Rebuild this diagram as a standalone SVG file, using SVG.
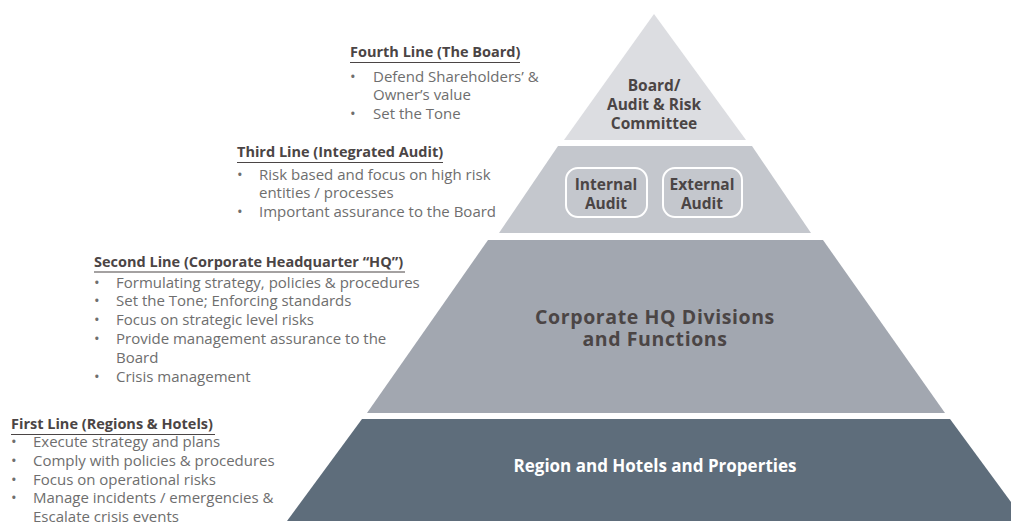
<svg xmlns="http://www.w3.org/2000/svg" width="1011" height="528" viewBox="0 0 1011 528">
  <style>
    .tier-label { font-family: "Open Sans", "Liberation Sans", sans-serif; font-weight: 700; fill: #4b4545; text-anchor: middle; }
    .tier-label-light { font-family: "Open Sans", "Liberation Sans", sans-serif; font-weight: 700; fill: #ffffff; text-anchor: middle; }
    .head { font-family: "Open Sans", "Liberation Sans", sans-serif; font-weight: 700; font-size: 14.5px; fill: #4b4545; }
    .body { font-family: "Open Sans", "Liberation Sans", sans-serif; font-size: 15px; fill: #6e6e6e; }
    .rule { stroke: #4b4545; stroke-width: 1.2; }
    .pill { fill: none; stroke: #ffffff; stroke-width: 2; }
  </style>

  <rect width="1011" height="528" fill="#ffffff"/>

  <!-- Pyramid tiers, top to bottom -->
  <g id="tier-board">
    <polygon points="654,14 746,140 564,140" fill="#dcdde1"/>
    <text class="tier-label" font-size="15.5" x="654" y="91">Board/</text>
    <text class="tier-label" font-size="15.5" x="654" y="110">Audit &amp; Risk</text>
    <text class="tier-label" font-size="15.5" x="654" y="129">Committee</text>
  </g>

  <g id="tier-audit">
    <polygon points="558,146 752,146 811,233 499,233" fill="#c4c7cd"/>
    <g id="internal-audit">
      <rect class="pill" x="566" y="168" width="81" height="49" rx="12"/>
      <text class="tier-label" font-size="15.5" x="606" y="190">Internal</text>
      <text class="tier-label" font-size="15.5" x="606" y="209">Audit</text>
    </g>
    <g id="external-audit">
      <rect class="pill" x="663" y="168" width="79" height="49" rx="12"/>
      <text class="tier-label" font-size="15.5" x="702" y="190">External</text>
      <text class="tier-label" font-size="15.5" x="702" y="209">Audit</text>
    </g>
  </g>

  <g id="tier-hq">
    <polygon points="488,240 823,240 945,413 367,413" fill="#a2a7b0"/>
    <text class="tier-label" font-size="19.5" letter-spacing="0.6" x="655" y="324">Corporate HQ Divisions</text>
    <text class="tier-label" font-size="19.5" letter-spacing="0.6" x="655" y="346">and Functions</text>
  </g>

  <g id="tier-regions">
    <polygon points="362,419 950,419 1025,521 287,521" fill="#5e6d7b"/>
    <text class="tier-label-light" font-size="17" x="655" y="472">Region and Hotels and Properties</text>
  </g>

  <!-- Descriptions of each line of defence -->
  <g id="fourth-line">
    <text class="head" x="350" y="57">Fourth Line (The Board)</text>
    <line class="rule" x1="350" y1="62.5" x2="520" y2="62.5"/>
    <text class="body" x="350" y="82">•</text><text class="body" x="373" y="82">Defend Shareholders’ &amp;</text>
    <text class="body" x="373" y="100">Owner’s value</text>
    <text class="body" x="350" y="119">•</text><text class="body" x="373" y="119">Set the Tone</text>
  </g>

  <g id="third-line">
    <text class="head" x="237" y="157">Third Line (Integrated Audit)</text>
    <line class="rule" x1="237" y1="162.5" x2="443" y2="162.5"/>
    <text class="body" x="237" y="180">•</text><text class="body" x="259" y="180">Risk based and focus on high risk</text>
    <text class="body" x="259" y="198">entities / processes</text>
    <text class="body" x="237" y="217">•</text><text class="body" x="259" y="217">Important assurance to the Board</text>
  </g>

  <g id="second-line">
    <text class="head" x="94" y="267">Second Line (Corporate Headquarter “HQ”)</text>
    <line class="rule" x1="94" y1="272" x2="405" y2="272"/>
    <text class="body" x="94" y="288">•</text><text class="body" x="116" y="288">Formulating strategy, policies &amp; procedures</text>
    <text class="body" x="94" y="306">•</text><text class="body" x="116" y="306">Set the Tone; Enforcing standards</text>
    <text class="body" x="94" y="325">•</text><text class="body" x="116" y="325">Focus on strategic level risks</text>
    <text class="body" x="94" y="344">•</text><text class="body" x="116" y="344">Provide management assurance to the</text>
    <text class="body" x="116" y="363">Board</text>
    <text class="body" x="94" y="382">•</text><text class="body" x="116" y="382">Crisis management</text>
  </g>

  <g id="first-line">
    <text class="head" x="11" y="429">First Line (Regions &amp; Hotels)</text>
    <line class="rule" x1="11" y1="434.5" x2="215" y2="434.5"/>
    <text class="body" x="11" y="447">•</text><text class="body" x="33" y="447">Execute strategy and plans</text>
    <text class="body" x="11" y="466">•</text><text class="body" x="33" y="466">Comply with policies &amp; procedures</text>
    <text class="body" x="11" y="485">•</text><text class="body" x="33" y="485">Focus on operational risks</text>
    <text class="body" x="11" y="503">•</text><text class="body" x="33" y="503">Manage incidents / emergencies &amp;</text>
    <text class="body" x="33" y="522">Escalate crisis events</text>
  </g>
</svg>
